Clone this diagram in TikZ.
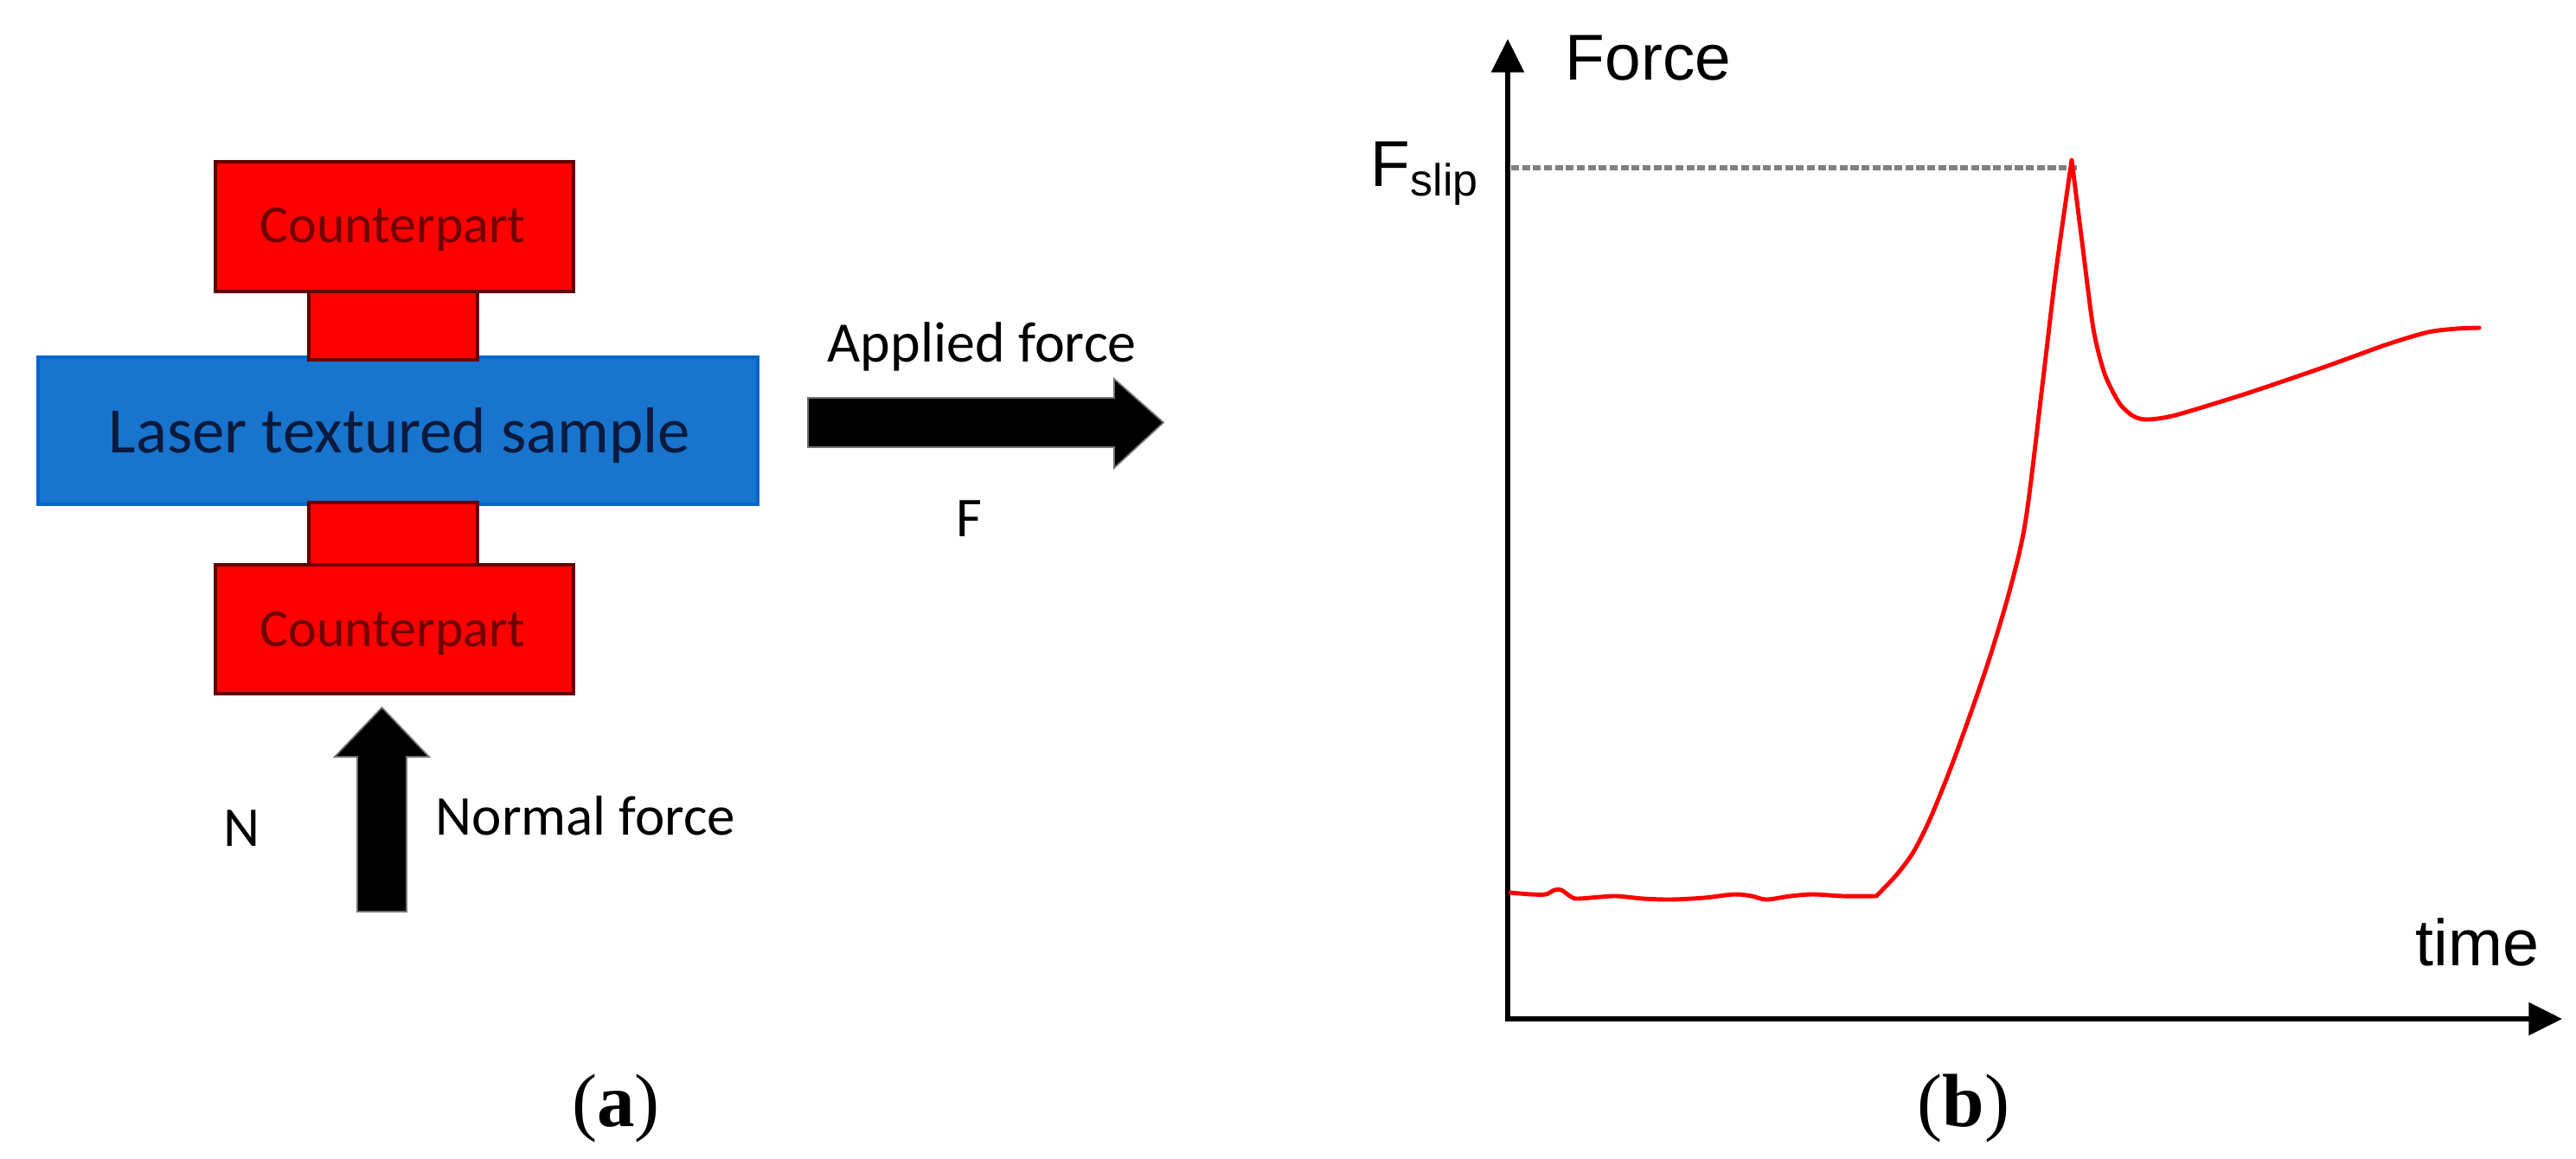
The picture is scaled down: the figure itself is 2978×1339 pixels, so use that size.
\documentclass[tikz,border=0pt]{standalone}
\usepackage{fontspec}
\setmainfont{Liberation Serif}
\newfontfamily\calfont{Carlito}
\newfontfamily\arialfont{Liberation Sans}
\usetikzlibrary{arrows.meta}
\definecolor{cpred}{RGB}{255,0,0}
\definecolor{cpedge}{RGB}{100,0,0}
\definecolor{cptext}{RGB}{110,0,0}
\definecolor{smpblue}{RGB}{24,116,205}
\definecolor{smpedge}{RGB}{0,102,204}
\definecolor{smptext}{RGB}{10,25,60}
\definecolor{dashgray}{RGB}{128,128,128}
\begin{document}
\begin{tikzpicture}[x=0.01cm,y=-0.01cm,
  cpbox/.style={draw=cpedge, fill=cpred, line width=1.1pt, minimum width=4.14cm, minimum height=1.5cm, inner sep=0pt},
  neckbox/.style={draw=cpedge, fill=cpred, line width=1.1pt, minimum width=1.95cm, inner sep=0pt},
  smpbox/.style={draw=smpedge, fill=smpblue, line width=1.1pt, minimum width=8.32cm, minimum height=1.7cm, inner sep=0pt},
  cplabel/.style={anchor=base, inner sep=0pt, text=cptext, font=\calfont\fontsize{17.6pt}{17.6pt}\selectfont},
  smplabel/.style={anchor=base, inner sep=0pt, text=smptext, font=\calfont\fontsize{21.3pt}{21.3pt}\selectfont},
  forcelabel/.style={inner sep=0pt, font=\calfont\fontsize{18.5pt}{18.5pt}\selectfont},
  blockarrow/.style={fill=black, draw=black!55, line width=0.5pt, line join=miter},
  axis/.style={line width=1.7pt, {Triangle[length=11pt,width=10.5pt]}-{Triangle[length=11pt,width=10.5pt]}},
  plotlabel/.style={inner sep=0pt, font=\arialfont\fontsize{21.3pt}{21.3pt}\selectfont},
  curve/.style={draw=red, line width=1.4pt, line join=round, line cap=round},
  caption/.style={anchor=base, inner sep=0pt, font=\fontsize{24.8pt}{24.8pt}\selectfont}
]
\path[use as bounding box] (0,0) rectangle (2978,1339);

% ---------- (a) ----------
\node[smpbox] (sample) at (460,498) {};
\node[neckbox, minimum height=0.81cm] (necktop) at (454.5,375.5) {};
\node[neckbox, minimum height=0.75cm] (neckbot) at (454.5,618.5) {};
\node[cpbox] (cptop) at (456,262) {};
\node[cpbox, minimum height=1.49cm] (cpbot) at (456,727.5) {};

\node[cplabel] (cptoplbl) at (454,280) {Counterpart};
\node[cplabel] (cpbotlbl) at (454,747) {Counterpart};
\node[smplabel] (smplbl) at (462,523) {Laser textured sample};

% applied force block arrow
\coordinate (aftip) at (1345,488.5);
\path[blockarrow] (934,460) -- (1288,460) -- (1288,438) -- (aftip) -- (1288,541) -- (1288,517) -- (934,517) -- cycle;
\node[forcelabel, anchor=base west, font=\calfont\fontsize{18.8pt}{18.8pt}\selectfont] (aflbl) at (956,418) {Applied force};
\node[forcelabel, anchor=base] (flbl) at (1120,620) {F};

% normal force block arrow
\coordinate (nftip) at (441.5,818);
\path[blockarrow] (413,1054) -- (413,875) -- (387,875) -- (nftip) -- (496,875) -- (470,875) -- (470,1054) -- cycle;
\node[forcelabel, anchor=base] (nlbl) at (279,978) {N};
\node[forcelabel, anchor=base west] (nflbl) at (503,965) {Normal force};

\node[caption] (capa) at (712,1302) {(\textbf{a})};

% ---------- (b) ----------
\coordinate (O) at (1743,1178);
\coordinate (ytip) at (1743,45);
\coordinate (xtip) at (2962,1178);
\draw[axis] (ytip) -- (O) -- (xtip);

\coordinate (peak) at (2395,185);
\coordinate (slipstart) at (1747,194);
\coordinate (slipend) at (2401,194);
\draw[dashgray, line width=1.9pt, dash pattern=on 2.6pt off 1pt] (slipstart) -- (slipend);

\draw[curve] plot[smooth, tension=0.5] coordinates {
  (1746,1032) (1770,1034) (1787,1034) (1797,1029) (1805,1029) (1815,1036) (1823,1039)
  (1850,1037) (1869,1036) (1900,1039) (1932,1040) (1970,1038) (2005,1034) (2025,1036)
  (2042,1040) (2070,1036) (2096,1034) (2130,1036) (2169,1036)}
  -- plot[smooth, tension=0.5] coordinates {
  (2169,1036) (2192,1012) (2212,985) (2232,945) (2260,875) (2297,770) (2324,680)
  (2342,600) (2361,446) (2377,312) (peak)}
  -- plot[smooth, tension=0.45] coordinates {
  (peak) (2407,280) (2420,380) (2433,432) (2450,466) (2466,481) (2482,485) (2515,480)
  (2597,455) (2688,424) (2760,398) (2807,384) (2840,380) (2866,379)};

\node[plotlabel, anchor=base west] (forcelbl) at (1809,92) {Force};
\node[plotlabel, anchor=base west] (fsliplbl) at (1584,215) {F{\fontsize{14.8pt}{14.8pt}\selectfont\raisebox{-3.4pt}{slip}}};
\node[plotlabel, anchor=base east, font=\arialfont\fontsize{21.5pt}{21.5pt}\selectfont] (timelbl) at (2936,1116) {time};

\node[caption] (capb) at (2270,1302) {(\textbf{b})};
\end{tikzpicture}
\end{document}
